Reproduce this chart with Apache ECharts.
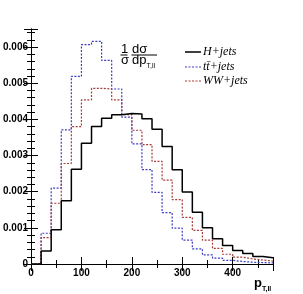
<!DOCTYPE html>
<html>
<head>
<meta charset="utf-8">
<script src="https://cdn.jsdelivr.net/npm/echarts@6/dist/echarts.min.js"></script>
<style>html,body{margin:0;padding:0;background:#fff}#c{width:303px;height:294px}</style>
</head>
<body>
<div id="c"></div>
<script>
// bin lower edges (GeV), bin width 20
var binEdges = [0,20,40,60,80,100,120,140,160,180,200,220,240,260,280,300,320,340,360,380,400,420,440,460,480];
var hJets  = [0,0.00036,0.00095,0.00175,0.00262,0.00334,0.00380,0.00403,0.00413,0.00416,0.00415,0.00402,0.00373,0.00325,0.00261,0.00199,0.00143,0.00100,0.00070,0.00051,0.00037,0.00029,0.00021,0.00017];
var ttJets = [0,0.00085,0.00210,0.00371,0.00519,0.00607,0.00616,0.00563,0.00484,0.00406,0.00332,0.00261,0.00198,0.00142,0.00099,0.00066,0.00042,0.00025,0.00016,0.00010,0.00007,0.00005,0.00004,0.00003];
var wwJets = [0,0.00073,0.00168,0.00278,0.00380,0.00454,0.00486,0.00484,0.00454,0.00413,0.00370,0.00330,0.00284,0.00232,0.00178,0.00129,0.00093,0.00066,0.00043,0.00027,0.00019,0.00014,0.00011,0.00008];
var seriesNames = ['H+jets', 't\u0074\u0304+jets', 'WW+jets'];
var seriesColors = ['#000000', '#3d3dc4', '#a83a3a'];

function steps(vals){
  var d = [];
  for (var i=0;i<vals.length;i++) d.push([binEdges[i], vals[i]]);
  d.push([binEdges[vals.length], vals[vals.length-1]]);
  return d;
}

var chart = echarts.init(document.getElementById('c'), null, {renderer:'canvas'});
var labelFont = {color:'#000', fontFamily:'Liberation Sans', fontWeight:'bold', fontSize:10};
function xAx(pos, showLabel){
  return {
    type:'value', position:pos, min:0, max:480, interval:100,
    axisLine:{show:true, lineStyle:{color:'#000', width:1}},
    axisTick:{show:true, inside:true, length:7, lineStyle:{color:'#000'}},
    minorTick:{show:true, splitNumber:2, length:4, lineStyle:{color:'#000'}},
    splitLine:{show:false},
    axisLabel:Object.assign({show:showLabel, margin:4, showMaxLabel:false}, labelFont)
  };
}
function yAx(pos, showLabel){
  return {
    type:'value', position:pos, min:0, max:0.0065, interval:0.001,
    axisLine:{show:true, lineStyle:{color:'#000', width:1}},
    axisTick:{show:true, inside:true, length:7, lineStyle:{color:'#000'}},
    minorTick:{show:true, splitNumber:5, length:4, lineStyle:{color:'#000'}},
    splitLine:{show:false},
    axisLabel:Object.assign({show:showLabel, margin:3, showMaxLabel:false,
      formatter:function(v){ return v===0 ? '0' : v.toFixed(3); }}, labelFont)
  };
}

var dash = [2,1.5];
var legendGraphics = [];
var legY = [52, 67, 81];
for (var k=0;k<3;k++){
  legendGraphics.push({type:'line', shape:{x1:185, y1:legY[k], x2:201, y2:legY[k]},
    style:{stroke:seriesColors[k], lineWidth:k===0?1.5:1.2, lineDash:k===0?null:dash}});
  legendGraphics.push({type:'text', x:203, y:legY[k], style:{text:seriesNames[k],
    font:'italic 12px Liberation Serif', fill:'#000', textVerticalAlign:'middle', verticalAlign:'middle'}});
}

chart.setOption({
  animation:false,
  backgroundColor:'#fff',
  grid:{left:30, right:30, top:29, bottom:30, containLabel:false},
  xAxis:[xAx('bottom', true), xAx('top', false)],
  yAxis:[yAx('left', true), yAx('right', false)],
  series:[
    {name:seriesNames[1], type:'line', step:'end', symbol:'none', data:steps(ttJets), z:2,
     lineStyle:{color:seriesColors[1], width:1.2, type:dash}},
    {name:seriesNames[2], type:'line', step:'end', symbol:'none', data:steps(wwJets), z:3,
     lineStyle:{color:seriesColors[2], width:1.2, type:dash}},
    {name:seriesNames[0], type:'line', step:'end', symbol:'none', data:steps(hJets), z:4,
     lineStyle:{color:seriesColors[0], width:1.5, type:'solid'}}
  ],
  graphic:legendGraphics.concat([
    {type:'text', left:121, top:43, style:{text:'1', font:'13px Liberation Sans', fill:'#000'}},
    {type:'line', shape:{x1:120.5, y1:55, x2:127.5, y2:55}, style:{stroke:'#000', lineWidth:1}},
    {type:'text', left:121, top:54, style:{text:'\u03c3', font:'13px Liberation Sans', fill:'#000'}},
    {type:'text', left:132, top:43, style:{text:'d\u03c3', font:'13px Liberation Sans', fill:'#000'}},
    {type:'line', shape:{x1:131.5, y1:55, x2:157, y2:55}, style:{stroke:'#000', lineWidth:1}},
    {type:'text', left:132, top:54, style:{text:'{a|dp}{b|T,ll}', rich:{
      a:{font:'13px Liberation Sans', fill:'#000', verticalAlign:'bottom'},
      b:{font:'7px Liberation Sans', fill:'#000', verticalAlign:'bottom', padding:[0,0,-3,0]}}}},
    {type:'text', left:254, top:277, style:{text:'{a|p}{b|T,ll}', rich:{
      a:{font:'bold 13px Liberation Sans', fill:'#000', verticalAlign:'bottom'},
      b:{font:'bold 7px Liberation Sans', fill:'#000', verticalAlign:'bottom', padding:[0,0,-3,0]}}}}
  ])
});
</script>
</body>
</html>
